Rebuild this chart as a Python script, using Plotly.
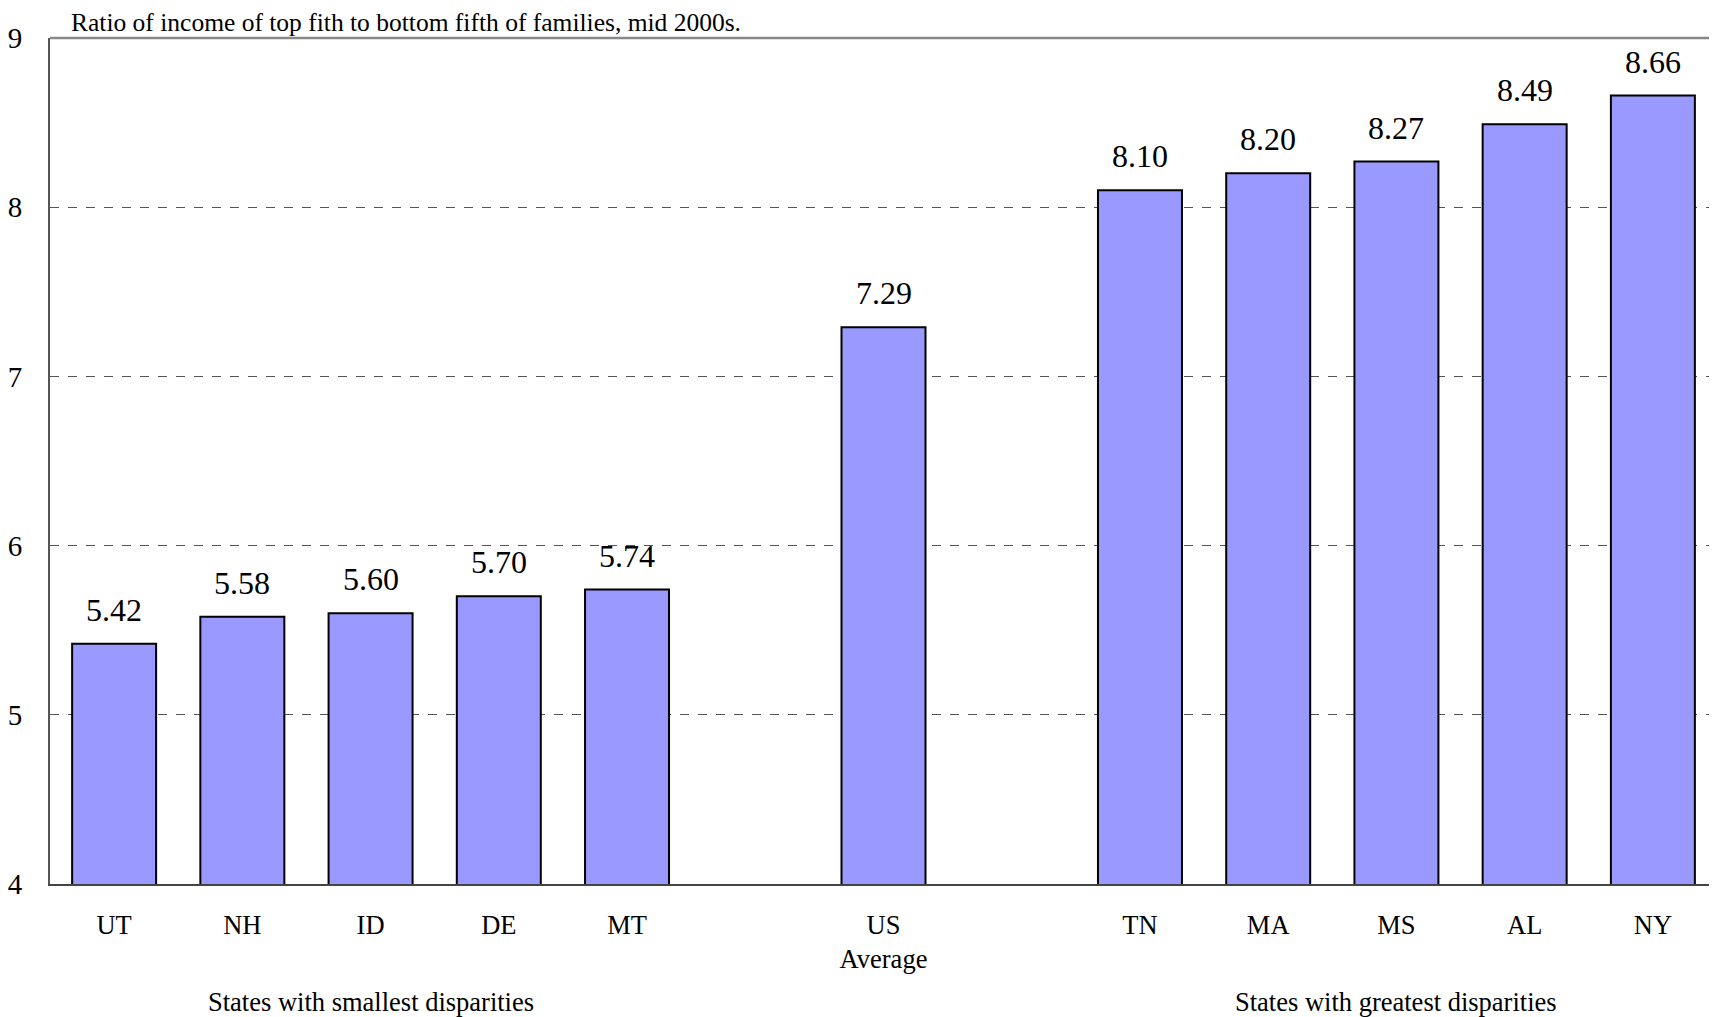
import plotly.graph_objects as go

# ---- data ----
categories = ["UT", "NH", "ID", "DE", "MT", "US<br>Average", "TN", "MA", "MS", "AL", "NY"]
values = [5.42, 5.58, 5.60, 5.70, 5.74, 7.29, 8.10, 8.20, 8.27, 8.49, 8.66]
category_order = ["UT", "NH", "ID", "DE", "MT", " ", "US<br>Average", "  ", "TN", "MA", "MS", "AL", "NY"]
group_labels = ["States with smallest disparities", "States with greatest disparities"]
group_centers = ["ID", "MS"]
title_text = "Ratio of income of top fith to bottom fifth of families, mid 2000s."
y_ticks = [4, 5, 6, 7, 8, 9]

FONT = "Liberation Serif, Times New Roman, serif"
PLOT_H = 846

fig = go.Figure()
fig.add_trace(go.Bar(
    x=categories,
    y=values,
    marker=dict(color="#9999FF", line=dict(color="black", width=2)),
    hoverinfo="x+y",
    showlegend=False,
))

annotations = []
for c, v in zip(categories, values):
    annotations.append(dict(
        x=c, y=v, xref="x", yref="y", text=f"{v:.2f}", showarrow=False,
        yanchor="bottom", yshift=14, font=dict(family=FONT, size=32, color="black"),
    ))
for lbl, c in zip(group_labels, group_centers):
    annotations.append(dict(
        x=c, y=-118 / PLOT_H, xref="x", yref="paper", text=lbl, showarrow=False,
        yanchor="middle", font=dict(family=FONT, size=26.5, color="black"),
    ))
annotations.append(dict(
    x=0.012, y=1 + 15.5 / PLOT_H, xref="paper", yref="paper", text=title_text, showarrow=False,
    xanchor="left", yanchor="middle", borderpad=0, font=dict(family=FONT, size=25.5, color="black"),
))

fig.update_layout(
    width=1709, height=1009,
    margin=dict(l=42, r=0, t=30, b=133),
    paper_bgcolor="white", plot_bgcolor="white",
    bargap=0.345,
    font=dict(family=FONT, color="black"),
    annotations=annotations,
    shapes=[dict(type="line", xref="paper", yref="paper", x0=0, x1=1, y0=1, y1=1,
                 line=dict(color="#888888", width=2.5), layer="above")],
    xaxis=dict(
        type="category", categoryorder="array", categoryarray=category_order,
        range=[-0.5, 12.5],
        showgrid=False, zeroline=False,
        showline=True, linecolor="#444444", linewidth=2,
        ticks="", ticklabelstandoff=16,
        tickfont=dict(family=FONT, size=26.5, color="black"),
        fixedrange=True,
    ),
    yaxis=dict(
        range=[4, 9], tickvals=y_ticks,
        showgrid=True, gridcolor="#555555", gridwidth=1, griddash="dash",
        zeroline=False,
        showline=True, linecolor="#555555", linewidth=2,
        ticks="", ticklabelstandoff=20,
        tickfont=dict(family=FONT, size=29, color="black"),
        fixedrange=True,
    ),
)

fig.write_html("out.html")
